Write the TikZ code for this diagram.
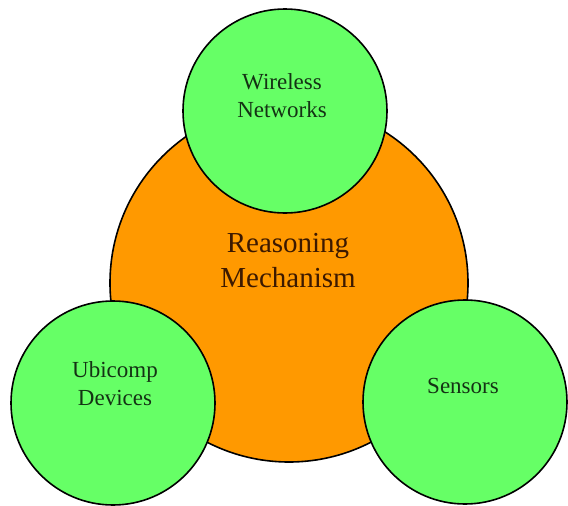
\documentclass[tikz,border=0pt]{standalone}
\usepackage{fontspec}
\setmainfont{Liberation Serif}
\usepackage{tikz}
\usetikzlibrary{positioning}
\definecolor{mechorange}{RGB}{255,153,0}
\definecolor{partgreen}{RGB}{102,255,102}
\definecolor{partink}{RGB}{20,50,20}
\definecolor{mechink}{RGB}{60,25,0}
\tikzset{
  mechcircle/.style={circle,draw=black,line width=1.6pt,fill=mechorange,minimum size=358pt,inner sep=0pt},
  partcircle/.style={circle,draw=black,line width=1.6pt,fill=partgreen,minimum size=204pt,inner sep=0pt},
  parttext/.style={align=center,text=partink,font=\fontsize{23}{28}\selectfont},
  mechtext/.style={align=center,text=mechink,font=\fontsize{29}{35}\selectfont}
}

\begin{document}
\begin{tikzpicture}[x=1pt,y=-1pt]
\useasboundingbox (0,0) rectangle (568,506);
\node[mechcircle] (mech) at (289,283) {};
\node[partcircle] (wireless) at (285,111) {};
\node[partcircle] (ubicomp) at (113,403) {};
\node[partcircle] (sensors) at (465,402) {};
\node[mechtext] (mechlabel) at (288,261) {Reasoning\\Mechanism};
\node[parttext] (wirelesslabel) at (282,96) {Wireless\\Networks};
\node[parttext] (ubicomplabel) at (115,384) {Ubicomp\\Devices};
\node[parttext] (sensorslabel) at (463,386) {Sensors};
\end{tikzpicture}
\end{document}
